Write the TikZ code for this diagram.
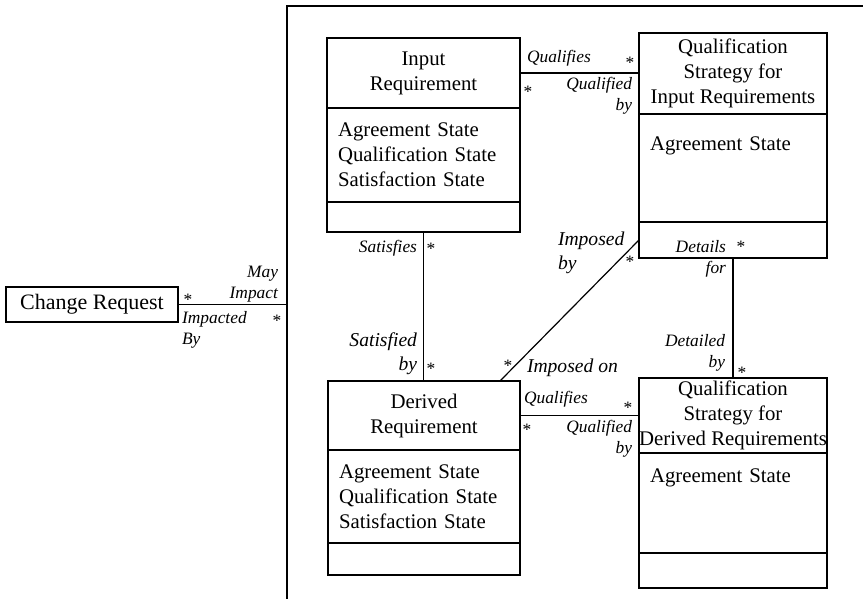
\documentclass[tikz,border=0pt]{standalone}
\usepackage{fontspec}
\setmainfont{Liberation Serif}
\usetikzlibrary{positioning}

\begin{document}
\begin{tikzpicture}[
    x=0.5pt, y=-0.5pt,
    every node/.style={inner sep=0pt, outer sep=0pt},
    box/.style={draw, line width=0.6pt, font=\fontsize{10.4}{12.5}\selectfont},
    cname/.style={box, align=center, minimum width=#1},
    cattr/.style={box, align=left, inner xsep=5.5pt, text width=#1},
    cops/.style={box, minimum width=#1},
    role/.style={font=\fontsize{8.7}{10.5}\selectfont\itshape},
    bigrole/.style={font=\fontsize{9.8}{12}\selectfont\itshape},
    mult/.style={font=\fontsize{8.7}{10}\selectfont, anchor=base},
    link/.style={draw, line width=0.6pt}]
  \useasboundingbox (0,0) rectangle (863,599);

  % frame
  \coordinate (frmTL) at (287,6);
  \draw[link] (287,599) -- (frmTL) -- (863,6);

  % classes
  \node[box, font=\fontsize{11}{13}\selectfont, minimum width=86pt, minimum height=17.5pt, anchor=north west] (CR) at (6,287) {Change Request};

  \node[cname=96.5pt, minimum height=35pt, anchor=north west] (IRn) at (327,38) {Input\\Requirement};
  \node[cattr=85.5pt, minimum height=47pt, below=0pt of IRn] (IRa) {Agreement State\\Qualification State\\Satisfaction State};
  \node[cops=96.5pt, minimum height=15pt, below=0pt of IRa] (IRo) {};

  \node[cname=94pt, minimum height=40.5pt, anchor=north west] (QSIn) at (639,33) {Qualification\\Strategy for\\Input Requirements};
  \node[cattr=83pt, text height=18.5pt, text depth=35.5pt, below=0pt of QSIn] (QSIa) {Agreement State};
  \node[cops=94pt, minimum height=18pt, below=0pt of QSIa] (QSIo) {};

  \node[cname=96pt, minimum height=34.5pt, anchor=north west] (DRn) at (328,381) {Derived\\Requirement};
  \node[cattr=85pt, minimum height=46.5pt, below=0pt of DRn] (DRa) {Agreement State\\Qualification State\\Satisfaction State};
  \node[cops=96pt, minimum height=16pt, below=0pt of DRa] (DRo) {};

  \node[cname=94pt, minimum height=37.5pt, anchor=north west] (QSDn) at (639,378) {Qualification\\Strategy for\\Derived Requirements};
  \node[cattr=83pt, text height=14.5pt, text depth=35.5pt, below=0pt of QSDn] (QSDa) {Agreement State};
  \node[cops=94pt, minimum height=17.5pt, below=0pt of QSDa] (QSDo) {};

  % associations
  \draw[link] (CR.east) -- (CR.east -| frmTL);
  \draw[link] (IRn.east) -- (IRn.east -| QSIn.west);
  \draw[link] (DRn.east) -- (DRn.east -| QSDn.west);
  \draw[link] (IRo.south) -- (IRo.south |- DRn.north);
  \draw[link] (QSIo.south) -- (QSIo.south |- QSDn.north);
  \draw[link] (QSIo.west) -- ([xshift=-10pt]DRn.north east);

  % role names
  \node[role, align=right, anchor=base east] (mayImp) at (278,299) {May\\Impact};
  \node[role, align=left, anchor=base west] (impBy) at (182,344) {Impacted\\By};
  \node[role, anchor=base west] (qualIR) at (527,63) {Qualifies};
  \node[role, align=right, anchor=base east] (qualdIR) at (632,111) {Qualified\\by};
  \node[role, anchor=base east] (satis) at (417,253) {Satisfies};
  \node[bigrole, align=right, anchor=base east] (satisd) at (417,370) {Satisfied\\by};
  \node[bigrole, align=left, anchor=base west] (impdBy) at (558,270) {Imposed\\by};
  \node[bigrole, anchor=base west] (impdOn) at (527,372) {Imposed on};
  \node[role, align=right, anchor=base east] (detFor) at (726,273) {Details\\for};
  \node[role, align=right, anchor=base east] (detdBy) at (725,367) {Detailed\\by};
  \node[role, anchor=base west] (qualDR) at (524,403) {Qualifies};
  \node[role, align=right, anchor=base east] (qualdDR) at (632,453) {Qualified\\by};

  % multiplicities
  \node[mult] (m1) at (188,306) {*};
  \node[mult] (m2) at (277,326) {*};
  \node[mult] (m3) at (630,69) {*};
  \node[mult] (m4) at (528,98) {*};
  \node[mult] (m5) at (431,255) {*};
  \node[mult] (m6) at (431,374) {*};
  \node[mult] (m7) at (630,268) {*};
  \node[mult] (m8) at (508,371) {*};
  \node[mult] (m9) at (741,253) {*};
  \node[mult] (m10) at (742,378) {*};
  \node[mult] (m11) at (628,413) {*};
  \node[mult] (m12) at (527,435) {*};
\end{tikzpicture}
\end{document}
